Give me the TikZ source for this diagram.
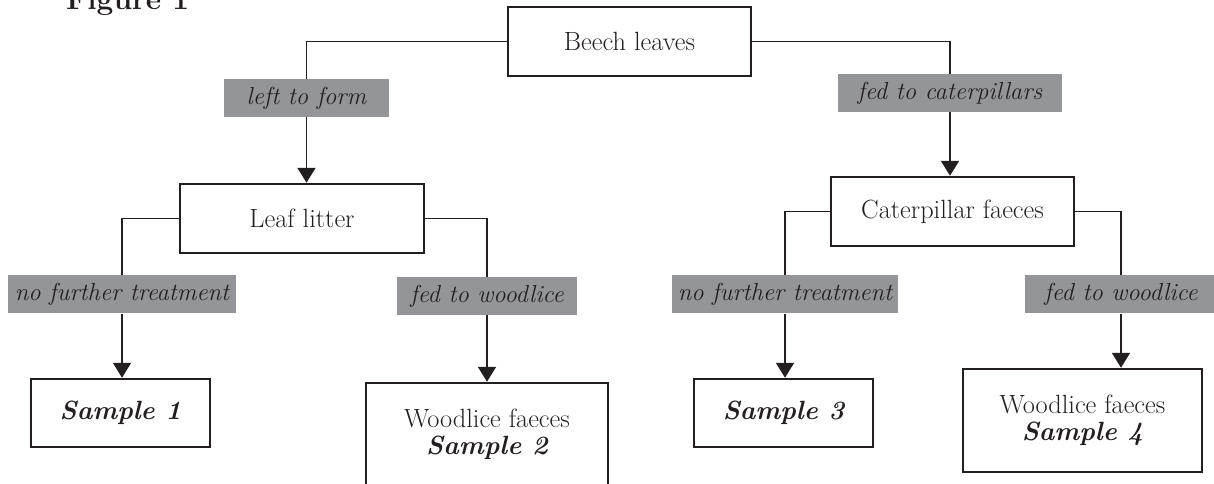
\documentclass[tikz,border=0pt]{standalone}
\usetikzlibrary{arrows.meta}

\definecolor{inkline}{RGB}{35,31,32}
\definecolor{labelgray}{RGB}{147,149,152}

\begin{document}
\begin{tikzpicture}[
        every node/.style={text=inkline, font=\fontsize{15}{15.5}\selectfont},
        box/.style={draw=inkline, line width=1.4pt, fill=white, inner sep=0pt, align=center},
        lab/.style={fill=labelgray, inner sep=0pt, minimum height=0.76cm, font=\fontsize{14}{15}\selectfont\itshape},
        link/.style={draw=inkline, line width=1.1pt},
        arr/.style={link, -{Triangle[length=3mm, width=3.6mm]}},
    ]
        \useasboundingbox (0, 0) rectangle (24.28, -9.68);

        \node[anchor=base west, font=\fontsize{17}{20}\selectfont\bfseries] (title) at (1.2, -0.2) {Figure 1};

        \node[box, minimum width=4.86cm, minimum height=1.38cm] (beech) at (12.59, -0.83) {Beech leaves};

        \node[box, minimum width=4.88cm, minimum height=1.38cm] (leaf) at (6.04, -4.37) {Leaf litter};
        \node[box, minimum width=4.86cm, minimum height=1.38cm] (cater) at (19.05, -4.23) {Caterpillar faeces};

        \node[box, minimum width=3.58cm, minimum height=1.36cm] (s1) at (2.41, -8.26) {\bfseries\itshape Sample 1};
        \node[box, minimum width=4.84cm, minimum height=2.06cm] (s2) at (9.74, -8.69) {Woodlice faeces\\{\bfseries\itshape Sample 2}};
        \node[box, minimum width=3.58cm, minimum height=1.36cm] (s3) at (15.67, -8.26) {\bfseries\itshape Sample 3};
        \node[box, minimum width=4.78cm, minimum height=2.06cm] (s4) at (21.65, -8.41) {Woodlice faeces\\{\bfseries\itshape Sample 4}};

        \node[lab, minimum width=3.3cm] (form) at (6.13, -1.96) {left to form};
        \node[lab, minimum width=4.48cm] (fedcat) at (19.0, -1.86) {fed to caterpillars};

        \node[lab, minimum width=4.56cm] (nft1) at (2.44, -5.89) {no further treatment};
        \node[lab, minimum width=3.6cm] (fw1) at (9.74, -5.92) {fed to woodlice};
        \node[lab, minimum width=4.52cm] (nft2) at (15.70, -5.89) {no further treatment};
        \node[lab, minimum width=3.84cm] (fw2) at (22.42, -5.89) {fed to woodlice};

        \draw[link] (beech.west) -| (form.north);
        \draw[arr] (form.south) -- (form.south |- leaf.north);
        \draw[link] (beech.east) -| (fedcat.north);
        \draw[arr] (fedcat.south) -- (fedcat.south |- cater.north);

        \draw[link] (leaf.west) -| (nft1.north);
        \draw[arr] (nft1.south) -- (nft1.south |- s1.north);
        \draw[link] (leaf.east) -| (fw1.north);
        \draw[arr] (fw1.south) -- (fw1.south |- s2.north);

        \draw[link] (cater.west) -| (nft2.north);
        \draw[arr] (nft2.south) -- (nft2.south |- s3.north);
        \draw[link] (cater.east) -| (fw2.north);
        \draw[arr] (fw2.south) -- (fw2.south |- s4.north);
    \end{tikzpicture}
\end{document}
